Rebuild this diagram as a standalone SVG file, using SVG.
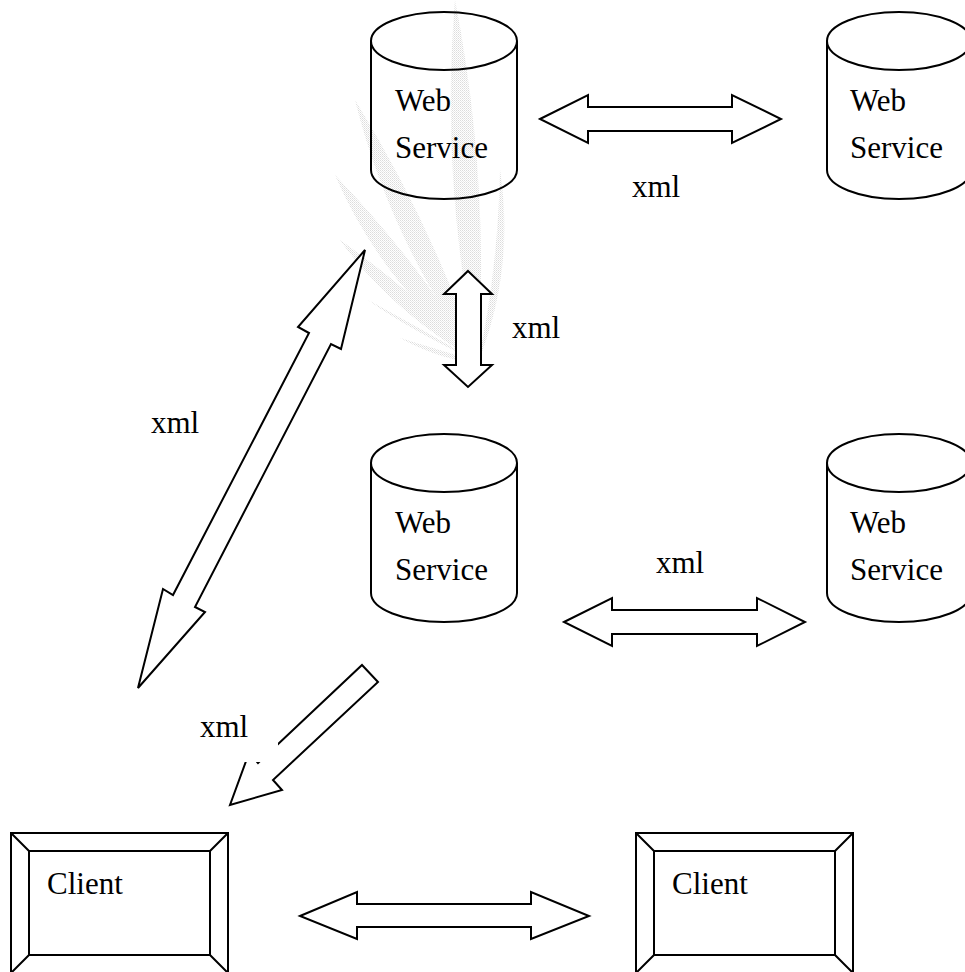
<svg xmlns="http://www.w3.org/2000/svg" width="965" height="972" viewBox="0 0 965 972">
<defs>
<pattern id="dither" width="2" height="2" patternUnits="userSpaceOnUse">
<rect x="0" y="0" width="1" height="1" fill="#d4d4d4"/>
<rect x="1" y="1" width="1" height="1" fill="#e4e4e4"/>
</pattern>
</defs>
<style>
.shape{fill:none;stroke:#000;stroke-width:2;stroke-linejoin:miter}
.arrow{fill:#fff;stroke:#000;stroke-width:2;stroke-linejoin:miter}
.lbl{font-family:"Liberation Serif","Times New Roman",serif;font-size:31px;fill:#000}
.wm{fill:url(#dither)}
</style>
<rect x="0" y="0" width="965" height="972" fill="#fff"/>
<g id="watermark" opacity="0.8">
<path class="wm" d="M478,362 Q440,180 455,0 Q490,180 478,362Z"/>
<path class="wm" d="M478,362 Q390,240 355,100 Q435,230 478,362Z"/>
<path class="wm" d="M478,362 Q380,280 335,175 Q425,270 478,362Z"/>
<path class="wm" d="M478,362 Q390,310 340,240 Q425,300 478,362Z"/>
<path class="wm" d="M478,362 Q410,330 368,300 Q432,335 478,362Z"/>
<path class="wm" d="M478,362 Q440,350 400,338 Q445,362 478,362Z"/>
<path class="wm" d="M478,362 Q498,270 500,170 Q515,270 478,362Z"/>
</g>
<g id="connectors">
<path id="ws1-ws2" class="arrow" d="M540,119 L588,95 L588,107 L732,107 L732,95 L781,119 L732,143 L732,131 L588,131 L588,143 Z"/>
<path id="ws1-ws3" class="arrow" d="M468,271 L492,294 L481,294 L481,365 L492,365 L468,387 L444,365 L456,365 L456,294 L444,294 Z"/>
<path id="ws3-ws4" class="arrow" d="M564,622 L612,598 L612,610 L757,610 L757,598 L805,622 L757,646 L757,634 L612,634 L612,646 Z"/>
<path id="ws1-client" class="arrow" d="M365,250 L341,349 L331,344 L195,607 L205,612 L138,688 L163,589 L173,595 L309,333 L298,327 Z"/>
<path id="ws3-client" class="arrow" d="M362,665 L378,682 L273,780 L282,790 L230,805 L249,753 L258,763 Z"/>
<path id="client-client" class="arrow" d="M300,916 L357,892 L357,904 L531,904 L531,892 L589,916 L531,939 L531,927 L357,927 L357,939 Z"/>
<rect x="190" y="708" width="88" height="54" fill="#fff"/>
<text class="lbl" x="632" y="197">xml</text>
<text class="lbl" x="512" y="338">xml</text>
<text class="lbl" x="151" y="433">xml</text>
<text class="lbl" x="656" y="573">xml</text>
<text class="lbl" x="200" y="737">xml</text>
</g>
<g id="ws1">
<path class="shape" d="M371,41 L371,170 A73,29 0 0 0 517,170 L517,41"/>
<ellipse class="shape" cx="444" cy="41" rx="73" ry="29"/>
<text class="lbl" x="395" y="111">Web</text>
<text class="lbl" x="395" y="158">Service</text>
</g>
<g id="ws2">
<path class="shape" d="M827,41 L827,170 A72,29 0 0 0 971,170 L971,41"/>
<ellipse class="shape" cx="899" cy="41" rx="72" ry="29"/>
<text class="lbl" x="850" y="111">Web</text>
<text class="lbl" x="850" y="158">Service</text>
</g>
<g id="ws3">
<path class="shape" d="M371,463 L371,593 A73,29 0 0 0 517,593 L517,463"/>
<ellipse class="shape" cx="444" cy="463" rx="73" ry="29"/>
<text class="lbl" x="395" y="533">Web</text>
<text class="lbl" x="395" y="580">Service</text>
</g>
<g id="ws4">
<path class="shape" d="M827,463 L827,593 A72,29 0 0 0 971,593 L971,463"/>
<ellipse class="shape" cx="899" cy="463" rx="72" ry="29"/>
<text class="lbl" x="850" y="533">Web</text>
<text class="lbl" x="850" y="580">Service</text>
</g>
<g id="client1">
<rect class="shape" x="11" y="833" width="217" height="140"/>
<rect class="shape" x="29" y="851" width="181" height="104"/>
<path class="shape" d="M11,833 L29,851 M228,833 L210,851 M11,973 L29,955 M228,973 L210,955"/>
<text class="lbl" x="47" y="894">Client</text>
</g>
<g id="client2">
<rect class="shape" x="636" y="833" width="217" height="140"/>
<rect class="shape" x="654" y="851" width="181" height="104"/>
<path class="shape" d="M636,833 L654,851 M853,833 L835,851 M636,973 L654,955 M853,973 L835,955"/>
<text class="lbl" x="672" y="894">Client</text>
</g>
</svg>
